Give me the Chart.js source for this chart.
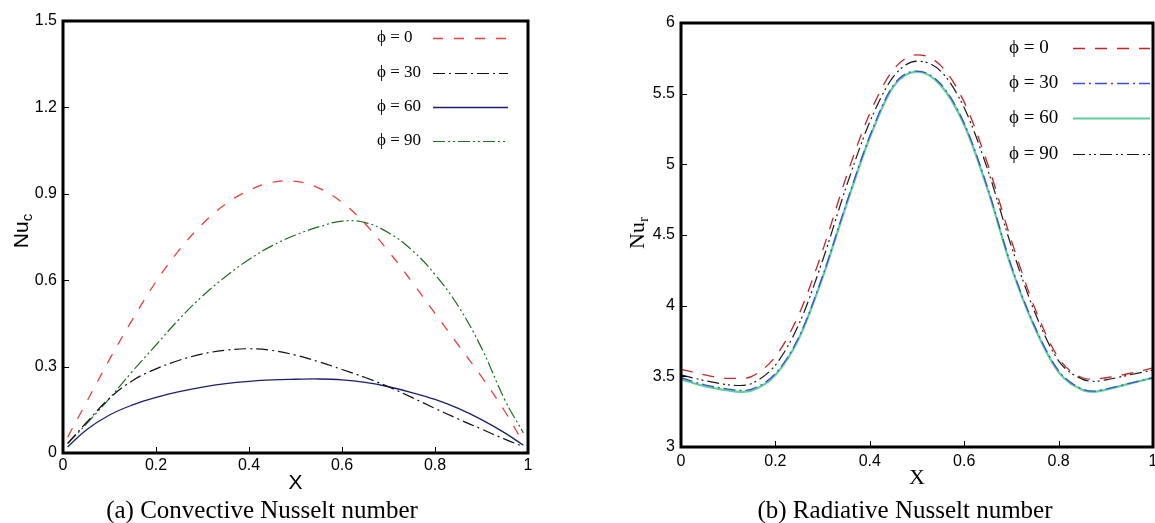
<!DOCTYPE html>
<html>
<head>
<meta charset="utf-8">
<title>Nusselt number distributions</title>
<script src="https://cdn.jsdelivr.net/npm/chart.js@4.4.0/dist/chart.umd.min.js"></script>
<style>
  html, body { margin: 0; padding: 0; background: #fff; overflow: hidden; width: 1155px; height: 523px; }
  canvas { position: absolute; top: 0; }
  #convChart { left: 0; }
  #radChart { left: 580px; }
</style>
</head>
<body>
<canvas id="convChart" width="580" height="523"></canvas>
<canvas id="radChart" width="600" height="523"></canvas>
<script>
// ========== Data ==========
const phiLabels = ['ϕ = 0', 'ϕ = 30', 'ϕ = 60', 'ϕ = 90'];
const xTicks = [0, 0.2, 0.4, 0.6, 0.8, 1];

// (a) convective Nusselt number
const convX      = [0.01, 0.05, 0.1, 0.15, 0.2, 0.25, 0.3, 0.35, 0.4, 0.45, 0.5, 0.55, 0.6, 0.65, 0.7, 0.75, 0.8, 0.85, 0.9, 0.95, 0.99];
const convPhi0   = [0.055, 0.175, 0.325, 0.465, 0.595, 0.705, 0.795, 0.865, 0.912, 0.94, 0.943, 0.92, 0.87, 0.795, 0.70, 0.595, 0.485, 0.375, 0.265, 0.145, 0.035];
const convPhi30  = [0.033, 0.105, 0.19, 0.252, 0.292, 0.322, 0.344, 0.357, 0.362, 0.356, 0.34, 0.317, 0.29, 0.262, 0.23, 0.193, 0.155, 0.118, 0.083, 0.048, 0.022];
const convPhi60  = [0.021, 0.08, 0.132, 0.167, 0.193, 0.213, 0.229, 0.241, 0.249, 0.254, 0.256, 0.257, 0.254, 0.245, 0.23, 0.21, 0.186, 0.155, 0.116, 0.07, 0.027];
const convPhi90  = [0.033, 0.10, 0.19, 0.285, 0.375, 0.465, 0.545, 0.613, 0.672, 0.72, 0.757, 0.785, 0.805, 0.80, 0.765, 0.705, 0.62, 0.51, 0.365, 0.185, 0.07];
const convYTicks = [0, 0.3, 0.6, 0.9, 1.2, 1.5];

// (b) radiative Nusselt number
const radX      = [0, 0.05, 0.1, 0.125, 0.15, 0.2, 0.25, 0.3, 0.35, 0.4, 0.45, 0.5, 0.55, 0.6, 0.65, 0.7, 0.75, 0.8, 0.85, 0.875, 0.9, 0.95, 1];
const radPhi0   = [3.55, 3.51, 3.485, 3.485, 3.50, 3.64, 3.94, 4.39, 4.91, 5.36, 5.67, 5.775, 5.70, 5.44, 5.00, 4.46, 3.98, 3.63, 3.49, 3.48, 3.49, 3.52, 3.56];
const radPhi30  = [3.49, 3.44, 3.41, 3.40, 3.41, 3.52, 3.78, 4.21, 4.72, 5.20, 5.56, 5.66, 5.57, 5.29, 4.83, 4.28, 3.85, 3.54, 3.41, 3.395, 3.41, 3.45, 3.49];
const radPhi60  = [3.478, 3.43, 3.40, 3.39, 3.40, 3.51, 3.77, 4.20, 4.71, 5.19, 5.55, 5.655, 5.56, 5.28, 4.82, 4.27, 3.84, 3.53, 3.405, 3.39, 3.405, 3.448, 3.49];
const radPhi90  = [3.51, 3.47, 3.44, 3.435, 3.45, 3.58, 3.87, 4.32, 4.84, 5.30, 5.62, 5.73, 5.66, 5.40, 4.96, 4.42, 3.95, 3.61, 3.48, 3.465, 3.475, 3.51, 3.545];
const radYTicks = [3, 3.5, 4, 4.5, 5, 5.5, 6];

// ========== Helpers ==========
const SANS = '"Liberation Sans", Arial, sans-serif';
const SERIF = '"Liberation Serif", "Times New Roman", serif';

function pts(xs, ys) {
  return xs.map((x, i) => ({ x, y: ys[i] }));
}

function series(label, xs, ys, color, dash, width, mode) {
  return {
    label,
    data: pts(xs, ys),
    borderColor: color,
    borderDash: dash,
    borderWidth: width,
    pointRadius: 0,
    fill: false,
    tension: 0.4,
    cubicInterpolationMode: mode
  };
}

// frame, inward ticks, legend and titles drawn on top of the plot
const framePlugin = {
  id: 'frame',
  afterDatasetsDraw(chart, args, opts) {
    const { ctx, chartArea: a } = chart;
    const xs = chart.scales.x, ys = chart.scales.y;
    ctx.save();

    // inward tick marks
    ctx.strokeStyle = '#000';
    ctx.lineWidth = 1;
    ctx.setLineDash([]);
    ctx.beginPath();
    xs.ticks.forEach(t => {
      if (t.value <= xs.min || t.value >= xs.max) return;
      const px = Math.round(xs.getPixelForValue(t.value)) + 0.5;
      ctx.moveTo(px, a.bottom);
      ctx.lineTo(px, a.bottom - 6);
    });
    ys.ticks.forEach(t => {
      if (t.value <= ys.min || t.value >= ys.max) return;
      const py = Math.round(ys.getPixelForValue(t.value)) + 0.5;
      ctx.moveTo(a.left, py);
      ctx.lineTo(a.left + 6, py);
    });
    ctx.stroke();

    // thick box
    ctx.lineWidth = 3;
    ctx.strokeRect(a.left, a.top, a.right - a.left, a.bottom - a.top);

    // legend
    const lg = opts.legend;
    chart.data.datasets.forEach((ds, i) => {
      const y = lg.rows[i];
      ctx.fillStyle = '#000';
      ctx.font = lg.font;
      ctx.textAlign = 'left';
      ctx.textBaseline = 'middle';
      ctx.fillText(ds.label, lg.textX, y);
      ctx.strokeStyle = ds.borderColor;
      ctx.lineWidth = ds.borderWidth;
      ctx.setLineDash(ds.borderDash || []);
      ctx.beginPath();
      ctx.moveTo(lg.lineX1, y + 0.5);
      ctx.lineTo(lg.lineX2, y + 0.5);
      ctx.stroke();
    });
    ctx.setLineDash([]);

    // x title
    ctx.fillStyle = '#000';
    ctx.font = opts.xTitle.font;
    ctx.textAlign = 'center';
    ctx.textBaseline = 'middle';
    ctx.fillText(opts.xTitle.text, (a.left + a.right) / 2, opts.xTitle.y);

    // y title with subscript
    const yt = opts.yTitle;
    ctx.save();
    ctx.translate(yt.x, yt.y);
    ctx.rotate(-Math.PI / 2);
    ctx.font = yt.font;
    const wMain = ctx.measureText(yt.text).width;
    ctx.font = yt.subFont;
    const wSub = ctx.measureText(yt.sub).width;
    const x0 = -(wMain + wSub) / 2;
    ctx.textAlign = 'left';
    ctx.textBaseline = 'middle';
    ctx.font = yt.font;
    ctx.fillText(yt.text, x0, 0);
    ctx.font = yt.subFont;
    ctx.fillText(yt.sub, x0 + wMain, yt.subShift);
    ctx.restore();

    // caption
    ctx.font = opts.caption.font;
    ctx.textAlign = 'center';
    ctx.textBaseline = 'middle';
    ctx.fillText(opts.caption.text, opts.caption.x, opts.caption.y);

    ctx.restore();
  }
};

function makeChart(el, cfg) {
  return new Chart(el, {
    type: 'line',
    data: { datasets: cfg.datasets },
    options: {
      responsive: false,
      animation: false,
      devicePixelRatio: 1,
      layout: { padding: cfg.padding },
      scales: {
        x: {
          type: 'linear',
          min: 0, max: 1,
          afterBuildTicks: s => { s.ticks = xTicks.map(v => ({ value: v })); },
          afterFit: s => { s.height = cfg.xAxisHeight; },
          grid: { display: false, drawTicks: false },
          border: { display: false },
          ticks: {
            color: '#000', padding: cfg.xTickPad, maxRotation: 0, autoSkip: false,
            font: { family: SANS, size: 16 },
            callback: v => String(v)
          }
        },
        y: {
          type: 'linear',
          min: cfg.yTicks[0], max: cfg.yTicks[cfg.yTicks.length - 1],
          afterBuildTicks: s => { s.ticks = cfg.yTicks.map(v => ({ value: v })); },
          afterFit: s => { s.width = cfg.yAxisWidth; },
          grid: { display: false, drawTicks: false },
          border: { display: false },
          ticks: {
            color: '#000', padding: 6, autoSkip: false,
            font: { family: SANS, size: 16 },
            callback: v => String(v)
          }
        }
      },
      plugins: {
        legend: { display: false },
        tooltip: { enabled: false },
        frame: cfg.frame
      }
    },
    plugins: [framePlugin]
  });
}

// ========== (a) Convective ==========
makeChart(document.getElementById('convChart'), {
  padding: { left: 0, right: 52, top: 21, bottom: 0 },
  yAxisWidth: 63,
  xAxisHeight: 70,
  xTickPad: 3,
  yTicks: convYTicks,
  datasets: [
    series(phiLabels[0], convX, convPhi0, '#e8413c', [10, 11], 1.3, 'default'),
    series(phiLabels[1], convX, convPhi30, '#111111', [12, 4, 2, 4], 1.2, 'default'),
    series(phiLabels[2], convX, convPhi60, '#1c1f6e', [], 1.3, 'default'),
    series(phiLabels[3], convX, convPhi90, '#1f6b23', [12, 3, 2, 3, 2, 3], 1.2, 'default')
  ],
  frame: {
    legend: { textX: 377, lineX1: 433, lineX2: 508, rows: [38, 73, 107, 141], font: '17px ' + SERIF },
    xTitle: { text: 'X', y: 483, font: '21px ' + SANS },
    yTitle: { text: 'Nu', sub: 'c', x: 22, y: 231, font: '21px ' + SANS, subFont: '15px ' + SANS, subShift: 6 },
    caption: { text: '(a) Convective Nusselt number', x: 262, y: 511, font: '25px ' + SERIF }
  }
});

// ========== (b) Radiative ==========
makeChart(document.getElementById('radChart'), {
  padding: { left: 0, right: 27, top: 23, bottom: 0 },
  yAxisWidth: 101,
  xAxisHeight: 76,
  xTickPad: 5,
  yTicks: radYTicks,
  datasets: [
    series(phiLabels[0], radX, radPhi0, '#c4262b', [12, 10], 1.3, 'monotone'),
    series(phiLabels[1], radX, radPhi30, '#3c4fd8', [12, 4, 2, 4], 1.3, 'monotone'),
    series(phiLabels[2], radX, radPhi60, '#5fd09a', [], 2.2, 'monotone'),
    series(phiLabels[3], radX, radPhi90, '#1a1a1a', [12, 4, 2, 3, 2, 4], 1.2, 'monotone')
  ],
  frame: {
    legend: { textX: 429, lineX1: 493, lineX2: 570, rows: [48, 83, 118, 154], font: '19px ' + SERIF },
    xTitle: { text: 'X', y: 478, font: '22px ' + SERIF },
    yTitle: { text: 'Nu', sub: 'r', x: 58, y: 233, font: '22px ' + SERIF, subFont: '15px ' + SERIF, subShift: 6 },
    caption: { text: '(b) Radiative Nusselt number', x: 325, y: 511, font: '25px ' + SERIF }
  }
});
</script>
</body>
</html>
